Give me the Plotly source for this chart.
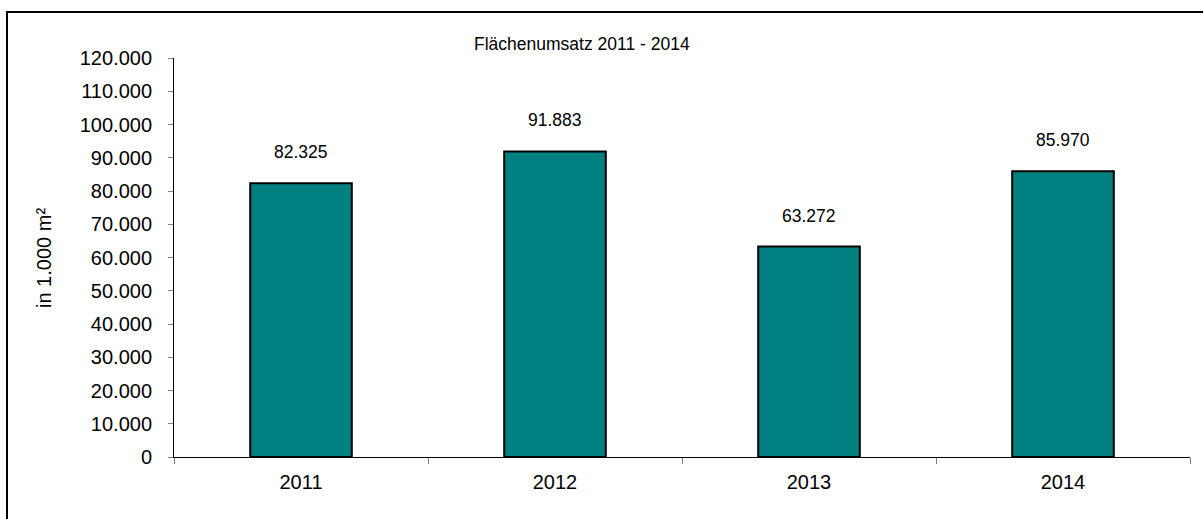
import plotly.graph_objects as go

years = ["2011", "2012", "2013", "2014"]
values = [82325, 91883, 63272, 85970]
title_text = "Flächenumsatz 2011 - 2014"
y_title = "in 1.000 m²"

W, H = 1203, 519
L, R, T, B = 174, 13, 58, 62
pw = W - L - R
ph = H - T - B

def px2x(px):
    return (px - L) / pw

def py2y(py):
    return (H - B - py) / ph

font = "Liberation Sans, Arial, sans-serif"

fig = go.Figure()
fig.add_trace(go.Bar(
    x=years, y=values,
    marker=dict(color="#008080", line=dict(color="#000000", width=2)),
    width=0.4,
    hoverinfo="skip",
))

for i, v in enumerate(values):
    fig.add_annotation(
        x=i, y=v, xref="x", yref="y",
        text=f"{v:,}".replace(",", "."),
        showarrow=False, yanchor="bottom", yshift=19,
        font=dict(family=font, size=17.5, color="#000000"),
    )

fig.add_annotation(
    x=px2x(582), y=py2y(44), xref="paper", yref="paper",
    text=title_text, showarrow=False, xanchor="center", yanchor="middle",
    font=dict(family=font, size=17.5, color="#000000"),
)
fig.add_annotation(
    x=px2x(44), y=py2y(258), xref="paper", yref="paper",
    text=y_title, showarrow=False, xanchor="center", yanchor="middle",
    textangle=-90,
    font=dict(family=font, size=20, color="#000000"),
)

fig.add_shape(
    type="rect", xref="paper", yref="paper",
    x0=px2x(7), x1=px2x(1215), y0=py2y(12), y1=py2y(530),
    line=dict(color="#000000", width=2), fillcolor="rgba(0,0,0,0)",
    layer="below",
)

fig.update_layout(
    width=W, height=H,
    margin=dict(l=L, r=R, t=T, b=B, pad=0, autoexpand=False),
    paper_bgcolor="white", plot_bgcolor="white",
    separators=",.",
    showlegend=False,
    bargap=0.6,
    font=dict(family=font, size=20, color="#000000"),
)
fig.update_xaxes(
    type="category", range=[-0.5, 3.5], automargin=False,
    showline=True, linecolor="#000000", linewidth=1,
    ticks="outside", tickson="boundaries", ticklen=6, tickcolor="#808080",
    showgrid=False, zeroline=False, tickangle=0,
    ticklabelstandoff=7,
    tickfont=dict(family=font, size=20, color="#000000"),
)
fig.update_yaxes(
    range=[0, 120000], dtick=10000, tickformat=",d", automargin=False,
    showline=True, linecolor="#000000", linewidth=1,
    ticks="outside", ticklen=5, tickcolor="#808080",
    showgrid=False, zeroline=False,
    ticklabelstandoff=12,
    tickfont=dict(family=font, size=20, color="#000000"),
)

fig.write_html("out.html")
